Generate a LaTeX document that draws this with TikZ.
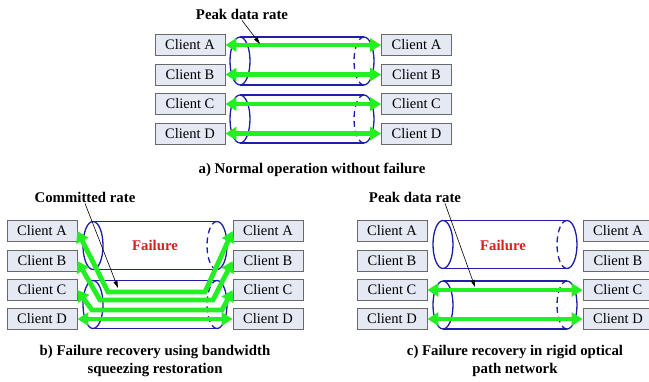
\documentclass[tikz,border=0pt]{standalone}
\usepackage{fontspec}
\setmainfont{Liberation Serif}
\usetikzlibrary{arrows.meta}
\definecolor{clientfill}{RGB}{228,233,243}
\definecolor{clientline}{RGB}{105,105,105}
\definecolor{pipeblue}{RGB}{30,30,170}
\definecolor{flowgreen}{RGB}{35,240,35}
\definecolor{failred}{RGB}{220,30,30}

\begin{document}
\begin{tikzpicture}[
    x=1pt, y=-1pt,
    client/.style={draw=clientline, thick, fill=clientfill,
        minimum width=70pt, minimum height=21pt, inner sep=0pt,
        font=\fontsize{14.5}{16}\selectfont},
    caption/.style={font=\fontsize{14.8}{18}\selectfont\bfseries,
        align=center, inner sep=1pt},
    flow/.style={draw=flowgreen, line width=4.8pt,
        {Triangle[length=11pt,width=13pt]}-{Triangle[length=11pt,width=13pt]}},
    pointer/.style={draw=black, semithick, -{Triangle[length=7pt,width=4pt]}},
    pipeline/.style={draw=pipeblue, line width=1.3pt},
    pipe/.pic={
        \draw[pipeline] (0,0) ellipse (10 and 24);
        \draw[pipeline] (0,-24) -- (124,-24) (0,24) -- (124,24);
        \draw[pipeline] (124,24) arc (90:-90:10 and 24);
        \draw[pipeline, dash pattern=on 6pt off 4pt] (124,24) arc (90:270:10 and 24);
    }
]
    \useasboundingbox (0,0) rectangle (649,381);

    % pipes
    \pic at (240,61) {pipe};
    \pic at (240,119) {pipe};
    \pic at (93,245.5) {pipe};
    \pic at (93,304.5) {pipe};
    \pic at (443,244.5) {pipe};
    \pic at (443,305) {pipe};

    % a) normal operation
    \node[client] (ala) at (190,45) {Client A};
    \node[client] (alb) at (190,74.5) {Client B};
    \node[client] (alc) at (190,104) {Client C};
    \node[client] (ald) at (190,133.5) {Client D};
    \node[client] (ara) at (416.5,45) {Client A};
    \node[client] (arb) at (416.5,74.5) {Client B};
    \node[client] (arc) at (416.5,104) {Client C};
    \node[client] (ard) at (416.5,133.5) {Client D};
    \draw[flow] (ala.east) -- (ara.west);
    \draw[flow] (alb.east) -- (arb.west);
    \draw[flow] (alc.east) -- (arc.west);
    \draw[flow] (ald.east) -- (ard.west);
    \node[caption] (pa) at (242,14) {Peak data rate};
    \coordinate (pat) at (260,44);
    \draw[pointer] (pa.south) -- (pat);
    \node[caption] (capa) at (312,170) {a) Normal operation without failure};

    % b) bandwidth squeezing
    \node[client] (bla) at (42,231) {Client A};
    \node[client] (blb) at (42,261) {Client B};
    \node[client] (blc) at (42,290) {Client C};
    \node[client] (bld) at (42,319) {Client D};
    \node[client] (bra) at (268,231) {Client A};
    \node[client] (brb) at (268,261) {Client B};
    \node[client] (brc) at (268,290) {Client C};
    \node[client] (brd) at (268,319) {Client D};
    \draw[flow] (bla.east) -- (108,292) -- (205,292) -- (bra.west);
    \draw[flow] (blb.east) -- (100,300) -- (213,300) -- (brb.west);
    \draw[flow] (blc.east) -- (92,310) -- (222,310) -- (brc.west);
    \draw[flow] (bld.east) -- (brd.west);
    \node[caption, text=failred] (fb) at (155,245) {Failure};
    \node[caption] (cr) at (85,197) {Committed rate};
    \coordinate (crt) at (118,288);
    \draw[pointer] (cr.south) -- (crt);
    \node[caption] (capb) at (155,361)
        {b) Failure recovery using bandwidth\\squeezing restoration};

    % c) rigid optical path
    \node[client] (cla) at (392,231) {Client A};
    \node[client] (clb) at (392,261) {Client B};
    \node[client] (clc) at (392,290) {Client C};
    \node[client] (cld) at (392,319) {Client D};
    \node[client] (cra) at (618,231) {Client A};
    \node[client] (crb) at (618,261) {Client B};
    \node[client] (crc) at (618,290) {Client C};
    \node[client] (crd) at (618,319) {Client D};
    \draw[flow] (clc.east) -- (crc.west);
    \draw[flow] (cld.east) -- (crd.west);
    \node[caption, text=failred] (fc) at (503,245) {Failure};
    \node[caption] (pc) at (415,197) {Peak data rate};
    \coordinate (pct) at (475,287);
    \draw[pointer] ([xshift=30pt]pc.south) -- (pct);
    \node[caption] (capc) at (515,361)
        {c) Failure recovery in rigid optical\\path network};
\end{tikzpicture}
\end{document}
